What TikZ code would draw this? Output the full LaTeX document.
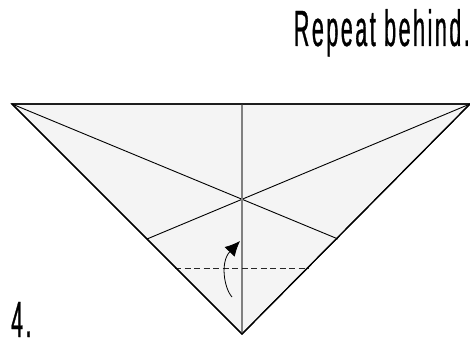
\documentclass[tikz,border=0pt]{standalone}
\usepackage{fontspec}
\usetikzlibrary{arrows.meta}
\newfontfamily\narrowfont[FakeStretch=0.42,FakeBold=0.6,LetterSpace=5]{Liberation Sans}
\tikzset{
  paper/.style={fill=black!4.5,draw=black,line width=1.2pt,line join=miter},
  crease/.style={draw=black,line width=0.9pt},
  centre/.style={draw=black!50,line width=1.5pt},
  foldline/.style={draw=black!85,line width=1pt,dash pattern=on 6pt off 3.5pt},
  foldarrow/.style={draw=black,line width=0.8pt,-{Latex[length=15pt,width=14pt]}},
  label/.style={inner sep=0pt,text=black}
}
\begin{document}
\begin{tikzpicture}[x=1pt,y=-1pt]
\useasboundingbox (0,0) rectangle (470,339);
\coordinate (L) at (12,104);
\coordinate (R) at (470,104);
\coordinate (B) at (242,334);
\coordinate (T) at (242,104);
\coordinate (C) at (242,199);
\coordinate (EL) at (147,239);
\coordinate (ER) at (338,239);
\coordinate (DL) at (175,268);
\coordinate (DR) at (309,268);
\coordinate (AS) at (232,297);
\coordinate (AE) at (240,241);
\path[paper] (L) -- (R) -- (B) -- cycle;
\draw[crease] (L) -- (ER);
\draw[crease] (R) -- (EL);
\draw[centre] (T) -- (B);
\draw[foldline] (DL) -- (DR);
\draw[foldarrow] (AS) .. controls (224,288) and (220,262) .. (AE);
\draw[paper,fill=none] (L) -- (R) -- (B) -- cycle;
\node[label,anchor=base east,font=\narrowfont\fontsize{51}{51}\selectfont] (title) at (470,46) {Repeat behind.};
\node[label,anchor=base west,font=\narrowfont\fontsize{51}{51}\selectfont] (num) at (11,337) {4.};
\end{tikzpicture}
\end{document}
